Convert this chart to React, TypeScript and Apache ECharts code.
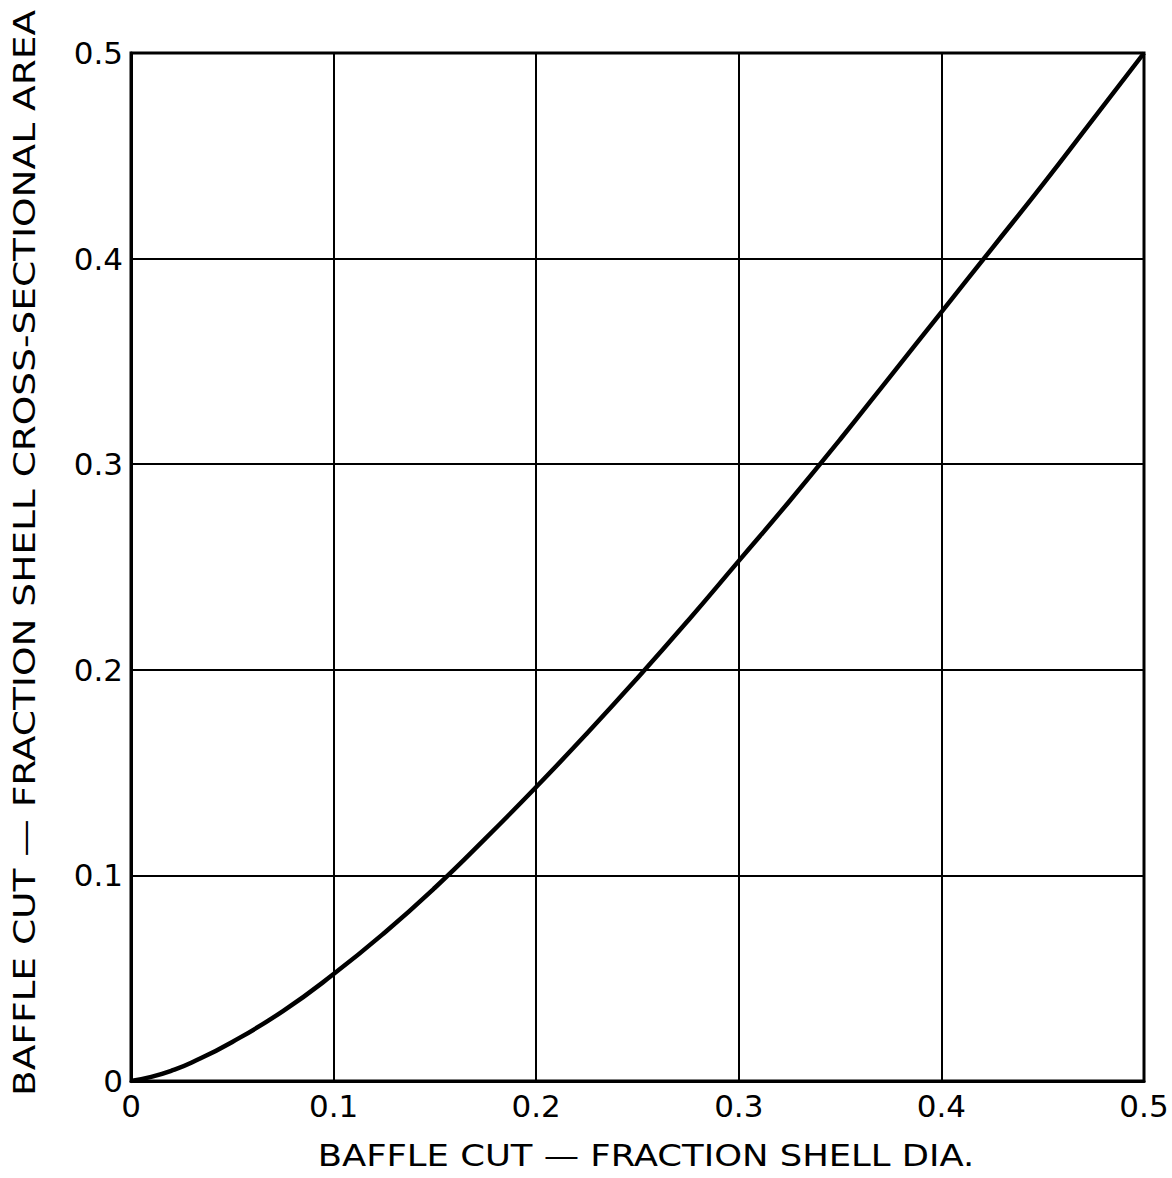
import React, { useEffect, useRef } from "react";
import * as echarts from "echarts";

const xTicks = [0, 0.1, 0.2, 0.3, 0.4, 0.5];
const yTicks = [0, 0.1, 0.2, 0.3, 0.4, 0.5];
const baffleCut = [0, 0.01, 0.02, 0.03, 0.05, 0.075, 0.1, 0.125, 0.15, 0.175, 0.2, 0.225, 0.25, 0.275, 0.3, 0.325, 0.35, 0.375, 0.4, 0.425, 0.45, 0.475, 0.5];
const areaFraction = [0, 0.002, 0.005, 0.009, 0.019, 0.034, 0.052, 0.072, 0.094, 0.118, 0.143, 0.169, 0.196, 0.224, 0.253, 0.282, 0.312, 0.343, 0.374, 0.405, 0.436, 0.468, 0.5];
const xTitle = "BAFFLE CUT — FRACTION SHELL DIA.";
const yTitle = "BAFFLE CUT — FRACTION SHELL CROSS-SECTIONAL AREA";

const FONT = "DejaVu Sans";

export default function App() {
  const ref = useRef<HTMLDivElement>(null);
  useEffect(() => {
    if (!ref.current) return;
    const chart = echarts.init(ref.current, undefined, { renderer: "svg" });
    const fmt = (v: number) => (v === 0 ? "0" : v.toFixed(1));
    chart.setOption({
      animation: false,
      backgroundColor: "#ffffff",
      grid: { left: 131, right: 28, top: 53, bottom: 97, show: true, borderColor: "#000", borderWidth: 3, backgroundColor: "transparent" },
      xAxis: {
        type: "value",
        min: xTicks[0],
        max: xTicks[xTicks.length - 1],
        interval: 0.1,
        axisLine: { show: true, lineStyle: { color: "#000", width: 3 } },
        axisTick: { show: false },
        splitLine: { show: true, lineStyle: { color: "#000", width: 2 } },
        axisLabel: { formatter: fmt, color: "#000", fontFamily: FONT, fontSize: 31, margin: 9 },
      },
      yAxis: {
        type: "value",
        min: yTicks[0],
        max: yTicks[yTicks.length - 1],
        interval: 0.1,
        axisLine: { show: true, lineStyle: { color: "#000", width: 3 } },
        axisTick: { show: false },
        splitLine: { show: true, lineStyle: { color: "#000", width: 2 } },
        axisLabel: { formatter: fmt, color: "#000", fontFamily: FONT, fontSize: 31, margin: 8 },
      },
      graphic: [
        {
          type: "text",
          x: 646,
          y: 1156,
          scaleX: 1.18,
          style: { text: xTitle, fill: "#000", font: `30px "${FONT}"`, align: "center", verticalAlign: "middle" },
        },
        {
          type: "text",
          x: 24,
          y: 553,
          rotation: Math.PI / 2,
          scaleX: 1.25,
          style: { text: yTitle, fill: "#000", font: `30px "${FONT}"`, align: "center", verticalAlign: "middle" },
        },
      ],
      series: [
        {
          type: "line",
          data: baffleCut.map((x, i) => [x, areaFraction[i]]),
          smooth: true,
          showSymbol: false,
          lineStyle: { color: "#000", width: 4.5 },
        },
      ],
    });
    return () => chart.dispose();
  }, []);
  return <div ref={ref} style={{ position: "fixed", left: 0, top: 0, width: 1172, height: 1178 }} />;
}
